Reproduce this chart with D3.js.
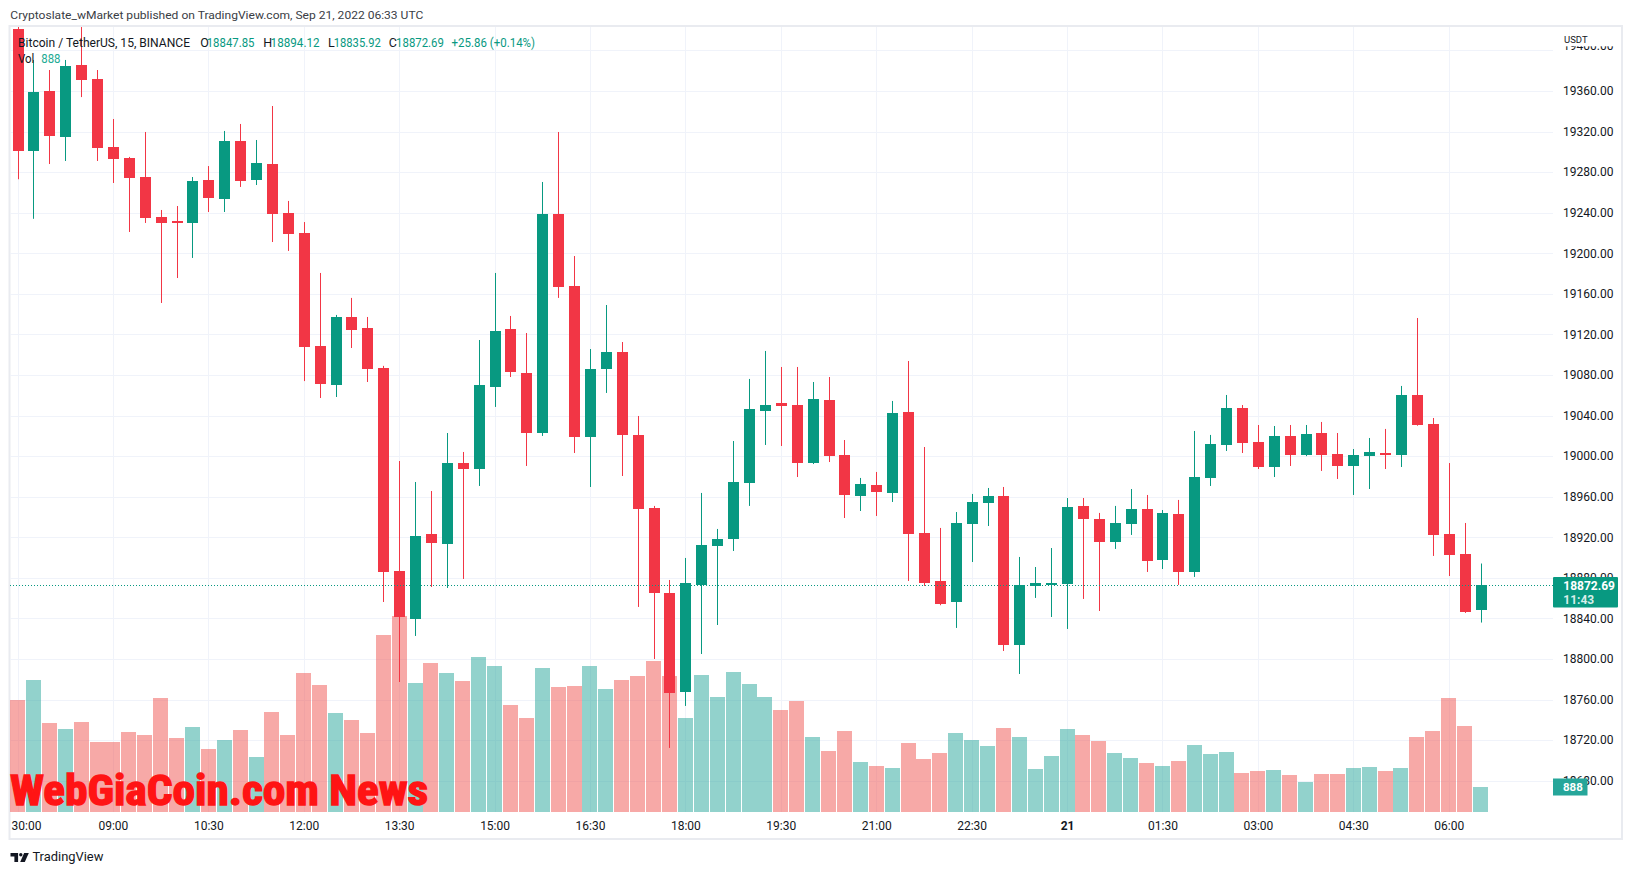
<!DOCTYPE html>
<html><head><meta charset="utf-8">
<script src="https://cdn.jsdelivr.net/npm/d3@7"></script>
<style>
html,body{margin:0;padding:0;background:#fff;}
svg{display:block;}
text{font-family:Roboto,"Noto Sans",sans-serif;}
</style></head><body>
<svg id="chart" width="1633" height="875"></svg>
<script>
// ---------- DATA ----------
const times = ["20 07:30","20 07:45","20 08:00","20 08:15","20 08:30","20 08:45","20 09:00","20 09:15","20 09:30","20 09:45",
"20 10:00","20 10:15","20 10:30","20 10:45","20 11:00","20 11:15","20 11:30","20 11:45","20 12:00","20 12:15",
"20 12:30","20 12:45","20 13:00","20 13:15","20 13:30","20 13:45","20 14:00","20 14:15","20 14:30","20 14:45",
"20 15:00","20 15:15","20 15:30","20 15:45","20 16:00","20 16:15","20 16:30","20 16:45","20 17:00","20 17:15",
"20 17:30","20 17:45","20 18:00","20 18:15","20 18:30","20 18:45","20 19:00","20 19:15","20 19:30","20 19:45",
"20 20:00","20 20:15","20 20:30","20 20:45","20 21:00","20 21:15","20 21:30","20 21:45","20 22:00","20 22:15",
"20 22:30","20 22:45","20 23:00","20 23:15","20 23:30","20 23:45","21 00:00","21 00:15","21 00:30","21 00:45",
"21 01:00","21 01:15","21 01:30","21 01:45","21 02:00","21 02:15","21 02:30","21 02:45","21 03:00","21 03:15",
"21 03:30","21 03:45","21 04:00","21 04:15","21 04:30","21 04:45","21 05:00","21 05:15","21 05:30","21 05:45",
"21 06:00","21 06:15","21 06:30"];

const open  = [19421,19301,19360,19314.6,19385.6,19371.8,19304.8,19294,19275.2,19235.8,
19231.8,19229.9,19272.3,19253.5,19310.7,19272.3,19288,19239.7,19220,19108.6,
19070.1,19137.2,19126.3,19087,18886.8,18839.4,18923.3,18913.4,18993.2,18987.3,
19068.2,19125.4,19082,19022.8,19238.7,19167.8,19018.9,19086,19102.7,19020.9,
18948.9,18865.1,18767.5,18873,18911.4,18918.3,18973.5,19044.5,19052.4,19050.4,
18993.2,19055.3,19001.1,18960.7,18971.6,18963.7,19043.5,18924.2,18876.9,18856.2,
18933.1,18953.8,18960.7,18813.8,18872,18873,18873.9,18950.9,18938,18915.4,
18933.1,18947.9,18897.6,18942.9,18885.8,18978.5,19011,19047.5,19014,18989.3,
19019.9,19001.1,19022.8,19002.1,18990.3,19000.1,19003.1,19001.1,19060.3,19031.7,
18923.3,18903.5,18847.85];
const high  = [19432,19390.6,19380.7,19390.6,19430,19380.7,19332.4,19295,19319.6,19242.7,
19246.6,19275.2,19286,19320.6,19327.5,19311.7,19345.2,19251.6,19230.8,19180.6,
19139.2,19156,19137.2,19089,18995.2,18974.5,18965.6,19022.8,19004.1,19114.5,
19180.6,19138.2,19121.4,19270.3,19319.6,19197.3,19105.6,19149,19112.5,19039.6,
18950.9,18877.9,18899.6,18963.7,18928.2,19014.9,19076.1,19103.7,19087.9,19087.9,
19073.1,19078,19015.9,18978.5,18984.4,19054.4,19093.8,19009,18929.2,18944.9,
18962.7,18968.6,18969.6,18900.6,18890.7,18909.4,18958.7,18958.7,18944,18950.9,
18967.6,18961.7,18946.9,18956.8,19024.8,19020.9,19060.3,19050.4,19030.7,19029.7,
19030.7,19030.7,19033.7,19022.8,19007,19017.9,19026.8,19069.2,19136.2,19037.6,
18993.2,18934.1,18894.12];
const low   = [19273,19234,19288,19291,19354,19291,19269.3,19221,19229.9,19151,
19175.6,19195.4,19240.7,19240.7,19265.4,19267.3,19211.1,19202.3,19074,19057.3,
19058.3,19106.6,19073.1,18856.2,18777.3,18822.7,18871,18870,18878.9,18970.6,
19048.5,19078,18990.3,19019.9,19156,19003.1,18969.6,19062.3,18980.4,18851.3,
18800,18712.3,18753.7,18804.9,18833.5,18906.5,18950.9,19011,19010,18979.4,
18992.2,18994.2,18939,18945.9,18941,18954.8,18876.9,18872,18853,18830.6,
18895.6,18931.1,18807.9,18785.2,18860.2,18841.4,18829.6,18859.2,18847.3,18908.5,
18922.3,18885.8,18888.7,18873,18880.9,18970.6,19005.1,19003.1,18987.3,18979.4,
18990.3,19000,18985.4,18977.5,18961.7,18967.6,18987.3,18989.3,19030,18901.6,
18881.8,18845.4,18835.92];
const close = [19301,19359,19315.6,19384.6,19370.8,19304,19293,19274.5,19234.8,19229.9,
19229.9,19271.3,19254.5,19310.7,19271.3,19289,19238.7,19219,19107.6,19071.1,
19137.2,19124.4,19086,18885.8,18841.4,18921.3,18914.4,18993.2,18987.3,19070.1,
19123.4,19083,19022.8,19238.7,19166.8,19018.9,19086,19102.7,19020.9,18947.9,
18865.1,18766.5,18875,18912.4,18918.3,18974.5,19046.5,19050.4,19049.4,18993.2,
19056.3,19000.1,18961.7,18972.5,18964.7,19042.5,18923.3,18874.9,18854.2,18934.1,
18954.8,18960.7,18813.8,18873,18874.9,18874.9,18949.9,18938,18915.4,18934.1,
18947.9,18896.6,18943.9,18885.8,18979.4,19012,19047.5,19013,18989.3,19019.9,
19001.1,19021.8,19001.1,18990.3,19001.1,19004.1,19001.1,19060.3,19030.7,18922.3,
18902.5,18846.3,18872.69];
const volume = [3967,4677,3150,2937,3185,2475,2475,2830,2723,4038,
2617,3008,2238,2546,2901,1942,3541,2723,4926,4500,
3505,3256,2795,6276,6951,4571,5281,4926,4642,5494,
5175,3789,3327,5103,4428,4464,5175,4357,4677,4819,
5352,4819,3327,4854,4073,4961,4535,4073,3612,3931,
2652,2155,2865,1764,1622,1551,2439,1871,2084,2795,
2546,2332,2972,2652,1515,1977,2937,2723,2510,2084,
1906,1729,1622,1800,2368,2048,2119,1374,1445,1480,
1303,1054,1338,1338,1551,1587,1445,1551,2652,2865,
4038,3043,888];

const priceTicks = [19400,19360,19320,19280,19240,19200,19160,19120,19080,19040,19000,
18960,18920,18880,18840,18800,18760,18720,18680];
const tickTimes  = ["20 07:30","20 09:00","20 10:30","20 12:00","20 13:30","20 15:00","20 16:30","20 18:00",
"20 19:30","20 21:00","20 22:30","21 00:00","21 01:30","21 03:00","21 04:30","21 06:00"];
const tickLabels = ["30:00","09:00","10:30","12:00","13:30","15:00","16:30","18:00",
"19:30","21:00","22:30","21","01:30","03:00","04:30","06:00"];

const lastPrice = 18872.69, lastVolume = 888, countdown = "11:43";
const headerText = "Cryptoslate_wMarket published on TradingView.com, Sep 21, 2022 06:33 UTC";

// ---------- SETUP ----------
const UP = "#089981", DOWN = "#f23645";
const VUP = "rgba(38,166,154,0.5)", VDOWN = "rgba(239,83,80,0.5)";
const svg = d3.select("#chart");
const pane = {l:10, r:1553, t:27, b:812};

const x = d3.scalePoint().domain(times).range([17.5, 1480.5]);
const y = d3.scaleLinear().domain([18680, 19360]).range([780.7, 91]);
const v = d3.scaleLinear().domain([0, lastVolume]).range([812, 787]);

const defs = svg.append("defs");
defs.append("clipPath").attr("id","pc").append("rect")
  .attr("x",pane.l).attr("y",pane.t).attr("width",pane.r-pane.l).attr("height",pane.b-pane.t);

// frame
svg.append("rect").attr("x",9.5).attr("y",26).attr("width",1612.5).attr("height",813)
  .attr("fill","none").attr("stroke","#e9ebf0").attr("stroke-width",2);

// grid
const grid = svg.append("g").attr("clip-path","url(#pc)");
grid.selectAll("line.h").data(priceTicks).join("line")
  .attr("x1",pane.l).attr("x2",pane.r)
  .attr("y1",d=>Math.round(y(d))+0.5).attr("y2",d=>Math.round(y(d))+0.5)
  .attr("stroke","#f0f3fa").attr("stroke-width",1);
grid.selectAll("line.v").data(tickTimes).join("line")
  .attr("y1",pane.t).attr("y2",pane.b)
  .attr("x1",d=>Math.round(x(d))+0.5).attr("x2",d=>Math.round(x(d))+0.5)
  .attr("stroke","#f0f3fa").attr("stroke-width",1);

const rows = times.map((t,i)=>({t, o:open[i], h:high[i], l:low[i], c:close[i], vol:volume[i]}));

// volume
const vg = svg.append("g").attr("clip-path","url(#pc)").attr("shape-rendering","crispEdges");
vg.selectAll("rect").data(rows).join("rect")
  .attr("x",d=>x(d.t)-7.5).attr("width",15)
  .attr("y",d=>v(d.vol)).attr("height",d=>v(0)-v(d.vol))
  .attr("fill",d=>d.c>=d.o?VUP:VDOWN);

// watermark
svg.append("text").attr("x",10).attr("y",805)
  .attr("font-family","'DejaVu Serif',serif").attr("font-weight","bold").attr("font-stretch","condensed")
  .attr("font-size",42).attr("fill","#ff1414").attr("stroke","#ff1414").attr("stroke-width",1.4)
  .attr("textLength",418).attr("lengthAdjust","spacingAndGlyphs")
  .text("WebGiaCoin.com News");

// candles
const cg = svg.append("g").attr("clip-path","url(#pc)");
cg.selectAll("line").data(rows).join("line")
  .attr("x1",d=>Math.round(x(d.t))+0.5).attr("x2",d=>Math.round(x(d.t))+0.5)
  .attr("y1",d=>y(d.h)).attr("y2",d=>y(d.l))
  .attr("stroke",d=>d.c>=d.o?UP:DOWN).attr("stroke-width",1);
cg.selectAll("rect").data(rows).join("rect")
  .attr("shape-rendering","crispEdges")
  .attr("x",d=>Math.round(x(d.t))-5).attr("width",11)
  .attr("y",d=>y(Math.max(d.o,d.c)))
  .attr("height",d=>Math.max(1.5,Math.abs(y(d.o)-y(d.c))))
  .attr("fill",d=>d.c>=d.o?UP:DOWN);

// last price dotted line
svg.append("line").attr("x1",pane.l).attr("x2",pane.r)
  .attr("y1",Math.round(y(lastPrice))+0.5).attr("y2",Math.round(y(lastPrice))+0.5)
  .attr("stroke",UP).attr("stroke-width",1).attr("stroke-dasharray","1 2");

// header
svg.append("text").attr("x",10.3).attr("y",18.6).attr("font-size",11.5).attr("fill","#3a3d45")
  .attr("textLength",413).attr("lengthAdjust","spacingAndGlyphs").text(headerText);

// legend
const legend = [
  ["Bitcoin / TetherUS, 15, BINANCE",18,172,"#131722"],
  ["O",200.2,null,"#131722"],["18847.85",206.7,47.8,UP],
  ["H",263.3,null,"#131722"],["18894.12",270.6,49,UP],
  ["L",328,null,"#131722"],["18835.92",333.7,47.1,UP],
  ["C",388.8,null,"#131722"],["18872.69",396.1,47.8,UP],
  ["+25.86 (+0.14%)",451.6,83.4,UP]
];
legend.forEach(([t,lx,w,col])=>{
  const s = svg.append("text").attr("x",lx).attr("y",46.5).attr("font-size",12.5).attr("fill",col).text(t);
  if(w) s.attr("textLength",w).attr("lengthAdjust","spacingAndGlyphs");
});
svg.append("text").attr("x",18).attr("y",62.5).attr("font-size",12.5).attr("fill","#131722")
  .attr("textLength",16.4).attr("lengthAdjust","spacingAndGlyphs").text("Vol");
svg.append("text").attr("x",41.3).attr("y",62.5).attr("font-size",12.5).attr("fill","#22ab94")
  .attr("textLength",19.2).attr("lengthAdjust","spacingAndGlyphs").text(String(lastVolume));

// price axis
const ya = svg.append("g").attr("transform",`translate(${pane.r},0)`)
  .call(d3.axisRight(y).tickValues(priceTicks).tickSize(0).tickPadding(10).tickFormat(d3.format(".2f")));
ya.select(".domain").remove();
ya.selectAll("text").attr("font-family","Roboto,sans-serif").attr("font-size",12).attr("fill","#131722");
// top label partly hidden behind the currency caption
ya.selectAll(".tick").filter(d=>d===19400).attr("transform","translate(0,46.5)");
svg.append("rect").attr("x",pane.r+1).attr("y",27).attr("width",66).attr("height",19.3).attr("fill","#fff");
svg.append("text").attr("x",1564).attr("y",43).attr("font-size",9.5).attr("fill","#131722").text("USDT");

// last price label
svg.append("rect").attr("x",pane.r).attr("y",577).attr("width",65).attr("height",30.5).attr("fill",UP).attr("rx",1);
svg.append("text").attr("x",1563.3).attr("y",y(lastPrice)+4.4).attr("font-size",12).attr("font-weight","bold")
  .attr("fill","#fff").text(d3.format(".2f")(lastPrice));
svg.append("text").attr("x",1563.3).attr("y",y(lastPrice)+19).attr("font-size",12).attr("font-weight","bold")
  .attr("fill","#fff").attr("fill-opacity",0.85).text(countdown);

// volume label
svg.append("rect").attr("x",pane.r).attr("y",v(lastVolume)-8.5).attr("width",34.5).attr("height",17).attr("fill","#26a69a");
svg.append("text").attr("x",1563).attr("y",v(lastVolume)+4.2).attr("font-size",11.5).attr("font-weight","bold")
  .attr("fill","#fff").text(String(lastVolume));

// time axis
const xa = svg.append("g").attr("transform",`translate(0,${pane.b})`)
  .call(d3.axisBottom(x).tickValues(tickTimes).tickSize(0).tickPadding(9.5).tickFormat((d,i)=>tickLabels[i]));
xa.select(".domain").remove();
xa.selectAll("text").attr("font-family","Roboto,sans-serif").attr("font-size",12).attr("fill","#131722")
  .attr("font-weight",(d,i)=>tickLabels[i]==="21"?"bold":"normal");
xa.selectAll(".tick").filter((d,i)=>i===0).select("text")
  .attr("text-anchor","start").attr("x",11-x(tickTimes[0]));

// TradingView logo
const logo = svg.append("g").attr("transform","translate(10.5,853)").attr("fill","#131722");
logo.append("path").attr("d","M0 0 H7.6 V9 H3.9 V3.4 H0 Z");
logo.append("circle").attr("cx",10.3).attr("cy",1.7).attr("r",1.7);
logo.append("path").attr("d","M13.6 0 H18.3 L14.3 9 H9.7 Z");
svg.append("text").attr("x",32.4).attr("y",860.5).attr("font-size",12.5).attr("fill","#131722")
  .attr("textLength",71).attr("lengthAdjust","spacingAndGlyphs").text("TradingView");
</script>
</body></html>
